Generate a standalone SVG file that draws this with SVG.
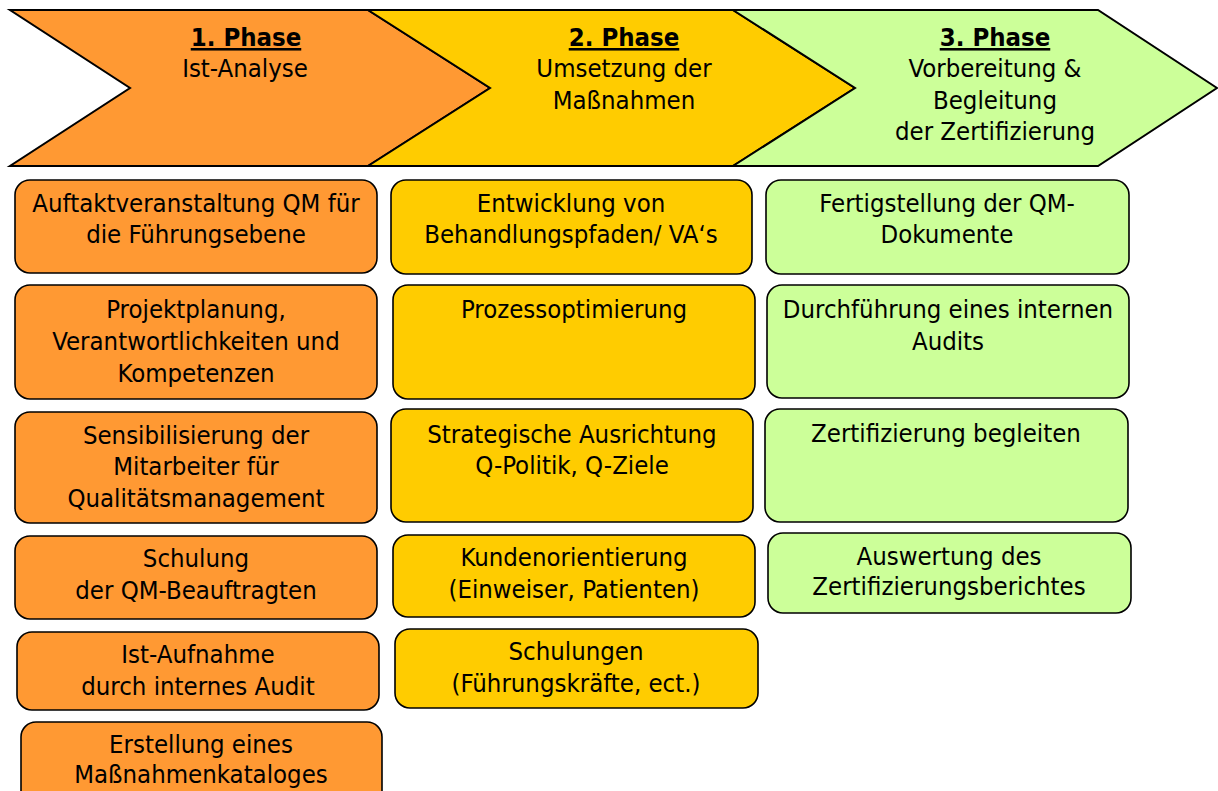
<svg xmlns="http://www.w3.org/2000/svg" width="1218" height="791" viewBox="0 0 1218 791">
<style>
text{font-family:"DejaVu Sans Condensed","DejaVu Sans",sans-serif;font-size:25.5px;fill:#000;text-anchor:middle}
.h{font-weight:bold;text-decoration:underline}
.chev{stroke:#000;stroke-width:2;stroke-linejoin:miter}
.box{stroke:#000;stroke-width:1.6}
.o{fill:#FF9933}.y{fill:#FFCC00}.g{fill:#CCFF99}
</style>
<rect width="1218" height="791" fill="#fff"/>
<g id="phase1">
<polygon class="chev o" points="10,10 368,10 490,88 368,166 10,166 130,88"/>
<text class="h" x="246" y="46">1. Phase</text>
<text x="245" y="77">Ist-Analyse</text>
</g>
<g id="phase2">
<polygon class="chev y" points="368,10 733,10 855,88 733,166 368,166 490,88"/>
<text class="h" x="624" y="46">2. Phase</text>
<text x="624" y="77">Umsetzung der</text>
<text x="624" y="109">Maßnahmen</text>
</g>
<g id="phase3">
<polygon class="chev g" points="733,10 1098,10 1217,88 1098,166 733,166 855,88"/>
<text class="h" x="995" y="46">3. Phase</text>
<text x="995" y="77">Vorbereitung &amp;</text>
<text x="995" y="109">Begleitung</text>
<text x="995" y="140">der Zertifizierung</text>
</g>
<g id="connectors"></g>
<g id="p1a"><rect class="box o" x="15" y="180" width="362" height="93" rx="15"/><text x="196" y="212">Auftaktveranstaltung QM für</text><text x="196" y="243">die Führungsebene</text></g>
<g id="p1b"><rect class="box o" x="15" y="285" width="362" height="114" rx="15"/><text x="196" y="318">Projektplanung,</text><text x="196" y="350">Verantwortlichkeiten und</text><text x="196" y="382">Kompetenzen</text></g>
<g id="p1c"><rect class="box o" x="15" y="412" width="362" height="111" rx="15"/><text x="196" y="444">Sensibilisierung der</text><text x="196" y="475">Mitarbeiter für</text><text x="196" y="507">Qualitätsmanagement</text></g>
<g id="p1d"><rect class="box o" x="15" y="536" width="362" height="83" rx="15"/><text x="196" y="567">Schulung</text><text x="196" y="599">der QM-Beauftragten</text></g>
<g id="p1e"><rect class="box o" x="17" y="632" width="362" height="78" rx="15"/><text x="198" y="663">Ist-Aufnahme</text><text x="198" y="695">durch internes Audit</text></g>
<g id="p1f"><rect class="box o" x="21" y="722" width="361" height="90" rx="15"/><text x="201" y="753">Erstellung eines</text><text x="201" y="783">Maßnahmenkataloges</text></g>
<g id="p2a"><rect class="box y" x="391" y="180" width="361" height="94" rx="15"/><text x="571" y="212">Entwicklung von</text><text x="571" y="243">Behandlungspfaden/ VA‘s</text></g>
<g id="p2b"><rect class="box y" x="393" y="285" width="362" height="114" rx="15"/><text x="574" y="318">Prozessoptimierung</text></g>
<g id="p2c"><rect class="box y" x="391" y="409" width="362" height="113" rx="15"/><text x="572" y="443">Strategische Ausrichtung</text><text x="572" y="474">Q-Politik, Q-Ziele</text></g>
<g id="p2d"><rect class="box y" x="393" y="535" width="362" height="82" rx="15"/><text x="574" y="566">Kundenorientierung</text><text x="574" y="598">(Einweiser, Patienten)</text></g>
<g id="p2e"><rect class="box y" x="395" y="629" width="363" height="79" rx="15"/><text x="576" y="660">Schulungen</text><text x="576" y="692">(Führungskräfte, ect.)</text></g>
<g id="p3a"><rect class="box g" x="766" y="180" width="363" height="94" rx="15"/><text x="947" y="212">Fertigstellung der QM-</text><text x="947" y="243">Dokumente</text></g>
<g id="p3b"><rect class="box g" x="767" y="285" width="362" height="113" rx="15"/><text x="948" y="318">Durchführung eines internen</text><text x="948" y="350">Audits</text></g>
<g id="p3c"><rect class="box g" x="765" y="409" width="363" height="113" rx="15"/><text x="946" y="442">Zertifizierung begleiten</text></g>
<g id="p3d"><rect class="box g" x="768" y="533" width="363" height="80" rx="15"/><text x="949" y="565">Auswertung des</text><text x="949" y="595">Zertifizierungsberichtes</text></g>
</svg>
